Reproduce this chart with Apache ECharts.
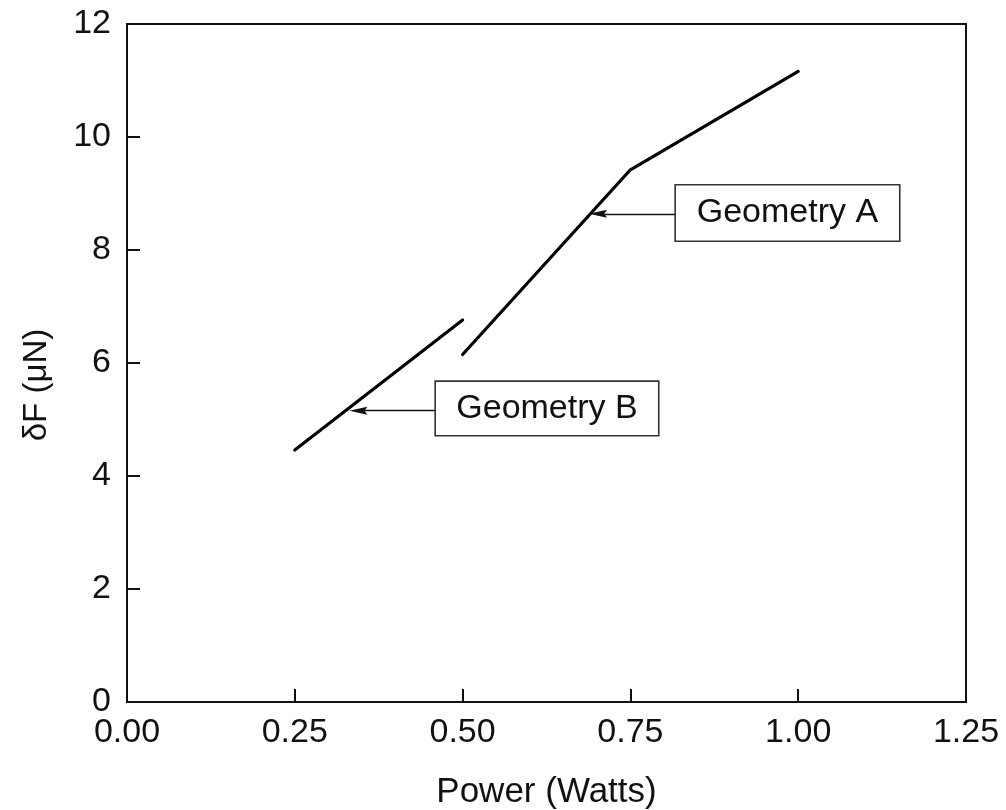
<!DOCTYPE html>
<html>
<head>
<meta charset="utf-8">
<script src="https://cdn.jsdelivr.net/npm/echarts@6/dist/echarts.min.js"></script>
<style>
  html, body { margin: 0; padding: 0; background: #fff; }
  #chart { width: 1006px; height: 810px; }
</style>
</head>
<body>
<div id="chart"></div>
<script>
// Force change vs. input power for the two geometries
const geometryA = [[0.50, 6.15], [0.75, 9.42], [1.00, 11.16]];
const geometryB = [[0.25, 4.46], [0.50, 6.76]];

// Callout boxes: label, box centre (data units), arrow head centre (data units), arrow start (data units)
const calloutLabels = ['Geometry A', 'Geometry B'];
const calloutCentres = [[0.984, 8.655], [0.6257, 5.196]];
const arrowHeads = [[0.7017, 8.64], [0.3446, 5.156]];
const arrowTails = [[0.8164, 8.64], [0.4589, 5.156]];

const xTicks = [0, 0.25, 0.5, 0.75, 1.0, 1.25];
const yTicks = [0, 2, 4, 6, 8, 10, 12];

const FONT = '"Liberation Sans", Arial, sans-serif';
const ARROW_HEAD = 'path://M5,0 L10,20 L5,17 L0,20 Z';
const chart = echarts.init(document.getElementById('chart'), null, { renderer: 'canvas' });

// Boxes are drawn as the label's own bordered background
const calloutBoxes = calloutLabels.map((name, i) => ({
  name: name,
  coord: calloutCentres[i],
  symbol: 'circle',
  symbolSize: 1,
  itemStyle: { color: 'rgba(0,0,0,0)' },
  label: {
    show: true, position: 'inside', formatter: name,
    color: '#111', fontFamily: FONT, fontSize: 34,
    width: i === 0 ? 223 : 222, height: i === 0 ? 55 : 53,
    lineHeight: i === 0 ? 55 : 53,
    align: 'center', verticalAlign: 'middle',
    backgroundColor: '#fff', borderColor: '#333', borderWidth: 1.6, padding: 0
  }
}));

const arrows = calloutLabels.map((name, i) => [
  { coord: arrowTails[i], symbol: 'none' },
  { coord: arrowHeads[i], symbol: ARROW_HEAD, symbolSize: [8, 18] }
]);

chart.setOption({
  animation: false,
  backgroundColor: '#fff',
  grid: {
    left: 127, right: 40, top: 24, bottom: 108,
    outerBoundsMode: 'none', containLabel: false,
    show: true, borderColor: '#111', borderWidth: 2, backgroundColor: 'transparent'
  },
  xAxis: {
    type: 'value', min: xTicks[0], max: xTicks[xTicks.length - 1], interval: 0.25,
    name: 'Power (Watts)', nameLocation: 'middle', nameGap: 73,
    nameTextStyle: { color: '#111', fontFamily: FONT, fontSize: 35 },
    axisLine: { show: true, lineStyle: { color: '#111', width: 2 } },
    axisTick: { show: true, inside: true, length: 13, lineStyle: { color: '#111', width: 2 } },
    axisLabel: {
      color: '#111', fontFamily: FONT, fontSize: 34, margin: 14,
      formatter: v => v.toFixed(2)
    },
    splitLine: { show: false }
  },
  yAxis: {
    type: 'value', min: yTicks[0], max: yTicks[yTicks.length - 1], interval: 2,
    name: 'δF (μN)', nameLocation: 'middle', nameGap: 74, nameRotate: 90,
    nameTextStyle: { color: '#111', fontFamily: FONT, fontSize: 33, padding: [0, 44, 0, 0] },
    axisLine: { show: true, lineStyle: { color: '#111', width: 2 } },
    axisTick: { show: true, inside: true, length: 13, lineStyle: { color: '#111', width: 2 } },
    axisLabel: { color: '#111', fontFamily: FONT, fontSize: 34, margin: 16 },
    splitLine: { show: false }
  },
  series: [
    {
      name: 'Geometry A', type: 'line', data: geometryA,
      showSymbol: false, symbol: 'none',
      lineStyle: { color: '#000', width: 3.2, cap: 'round', join: 'round' },
      silent: true,
      markPoint: { silent: true, data: [calloutBoxes[0]], z: 5 },
      markLine: {
        silent: true, label: { show: false },
        lineStyle: { color: '#111', width: 1.4, type: 'solid' },
        itemStyle: { color: '#111' },
        data: [arrows[0]]
      }
    },
    {
      name: 'Geometry B', type: 'line', data: geometryB,
      showSymbol: false, symbol: 'none',
      lineStyle: { color: '#000', width: 3.2, cap: 'round', join: 'round' },
      silent: true,
      markPoint: { silent: true, data: [calloutBoxes[1]], z: 5 },
      markLine: {
        silent: true, label: { show: false },
        lineStyle: { color: '#111', width: 1.4, type: 'solid' },
        itemStyle: { color: '#111' },
        data: [arrows[1]]
      }
    }
  ]
});
</script>
</body>
</html>
